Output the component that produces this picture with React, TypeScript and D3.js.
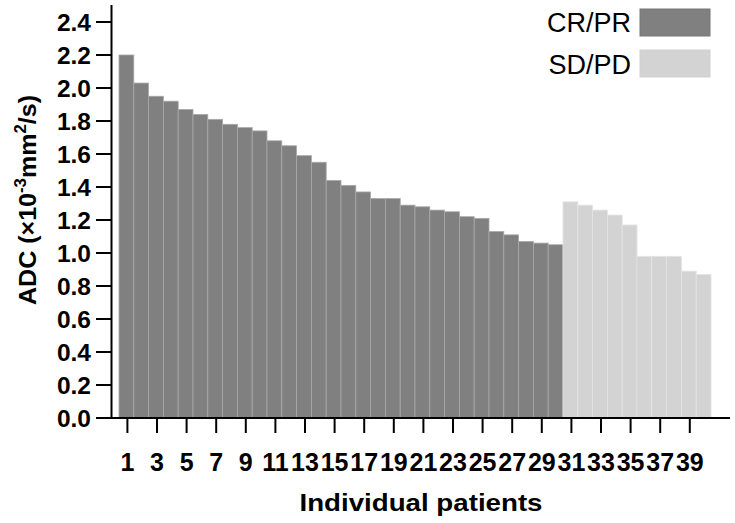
import React from 'react';
import * as d3 from 'd3';

// ADC value per patient, sorted within each response group
const crprValues = [
  2.20, 2.03, 1.95, 1.92, 1.87, 1.84, 1.81, 1.78, 1.76, 1.74,
  1.68, 1.65, 1.59, 1.55, 1.44, 1.41, 1.37, 1.33, 1.33, 1.29,
  1.28, 1.26, 1.25, 1.22, 1.21, 1.13, 1.11, 1.07, 1.06, 1.05,
];
const sdpdValues = [1.31, 1.29, 1.26, 1.23, 1.17, 0.98, 0.98, 0.98, 0.89, 0.87];
const yTicks = [0, 0.2, 0.4, 0.6, 0.8, 1.0, 1.2, 1.4, 1.6, 1.8, 2.0, 2.2, 2.4];
const groups = ['CR/PR', 'SD/PD'];
const groupColors = ['#808080', '#d3d3d3'];

const font = '"Liberation Sans", Arial, sans-serif';

export default function App() {
  const width = 735;
  const height = 523;
  const margin = {left: 119, right: 24, top: 22, bottom: 105};

  const data = [
    ...crprValues.map(v => ({group: 0, value: v})),
    ...sdpdValues.map(v => ({group: 1, value: v})),
  ].map((d, i) => ({...d, patient: i + 1}));

  const x = d3.scaleBand<number>()
    .domain(data.map(d => d.patient))
    .range([margin.left, width - margin.right])
    .padding(0);

  const y = d3.scaleLinear()
    .domain([0, 2.4])
    .range([height - margin.bottom, margin.top]);

  const axisX = 111.5;
  const axisY = y(0);
  const xTicks = data.filter(d => d.patient % 2 === 1).map(d => d.patient);

  return (
    <svg width={width} height={height} style={{position: 'absolute', left: 0, top: 0}}
         fontFamily={font}>
      <rect width={width} height={height} fill="#fff" />

      {data.map(d => (
        <rect key={d.patient}
              x={x(d.patient)}
              y={y(d.value)}
              width={x.bandwidth()}
              height={axisY - y(d.value)}
              fill={groupColors[d.group]}
              stroke={d.group === 0 ? '#a9a9a9' : '#e4e4e4'}
              strokeWidth={0.8} />
      ))}

      {/* y axis */}
      <line x1={axisX} x2={axisX} y1={5} y2={axisY + 1} stroke="#000" strokeWidth={2} />
      {yTicks.map(t => (
        <g key={t}>
          <line x1={96} x2={axisX} y1={y(t)} y2={y(t)} stroke="#000" strokeWidth={2} />
          <text x={91} y={y(t)} dy="0.36em" textAnchor="end" fontSize={24.5} fontWeight="bold">
            {t.toFixed(1)}
          </text>
        </g>
      ))}

      {/* x axis */}
      <line x1={96} x2={730} y1={axisY} y2={axisY} stroke="#000" strokeWidth={2} />
      {xTicks.map(p => {
        const cx = (x(p) ?? 0) + x.bandwidth() / 2 + 1;
        return (
          <g key={p}>
            <line x1={cx} x2={cx} y1={axisY} y2={axisY + 15} stroke="#000" strokeWidth={2} />
            <text x={cx} y={471} textAnchor="middle" fontSize={25} fontWeight="bold">{p}</text>
          </g>
        );
      })}

      <text x={421} y={511} textAnchor="middle" fontSize={24} fontWeight="bold"
            textLength={243} lengthAdjust="spacingAndGlyphs">Individual patients</text>

      <text transform="translate(36, 200) rotate(-90)" textAnchor="middle" fontSize={24}
            fontWeight="bold" textLength={210} lengthAdjust="spacingAndGlyphs">
        ADC (×10<tspan fontSize={16} dy={-10}>-3</tspan>
        <tspan dy={10}>mm</tspan>
        <tspan fontSize={16} dy={-10}>2</tspan>
        <tspan dy={10}>/s)</tspan>
      </text>

      {/* legend */}
      {groups.map((g, i) => (
        <g key={g}>
          <text x={631} y={32 + i * 42} textAnchor="end" fontSize={27}>{g}</text>
          <rect x={640} y={9 + i * 41} width={70} height={27}
                fill={groupColors[i]} stroke={i === 0 ? '#777' : '#cfcfcf'} strokeWidth={1} />
        </g>
      ))}
    </svg>
  );
}
